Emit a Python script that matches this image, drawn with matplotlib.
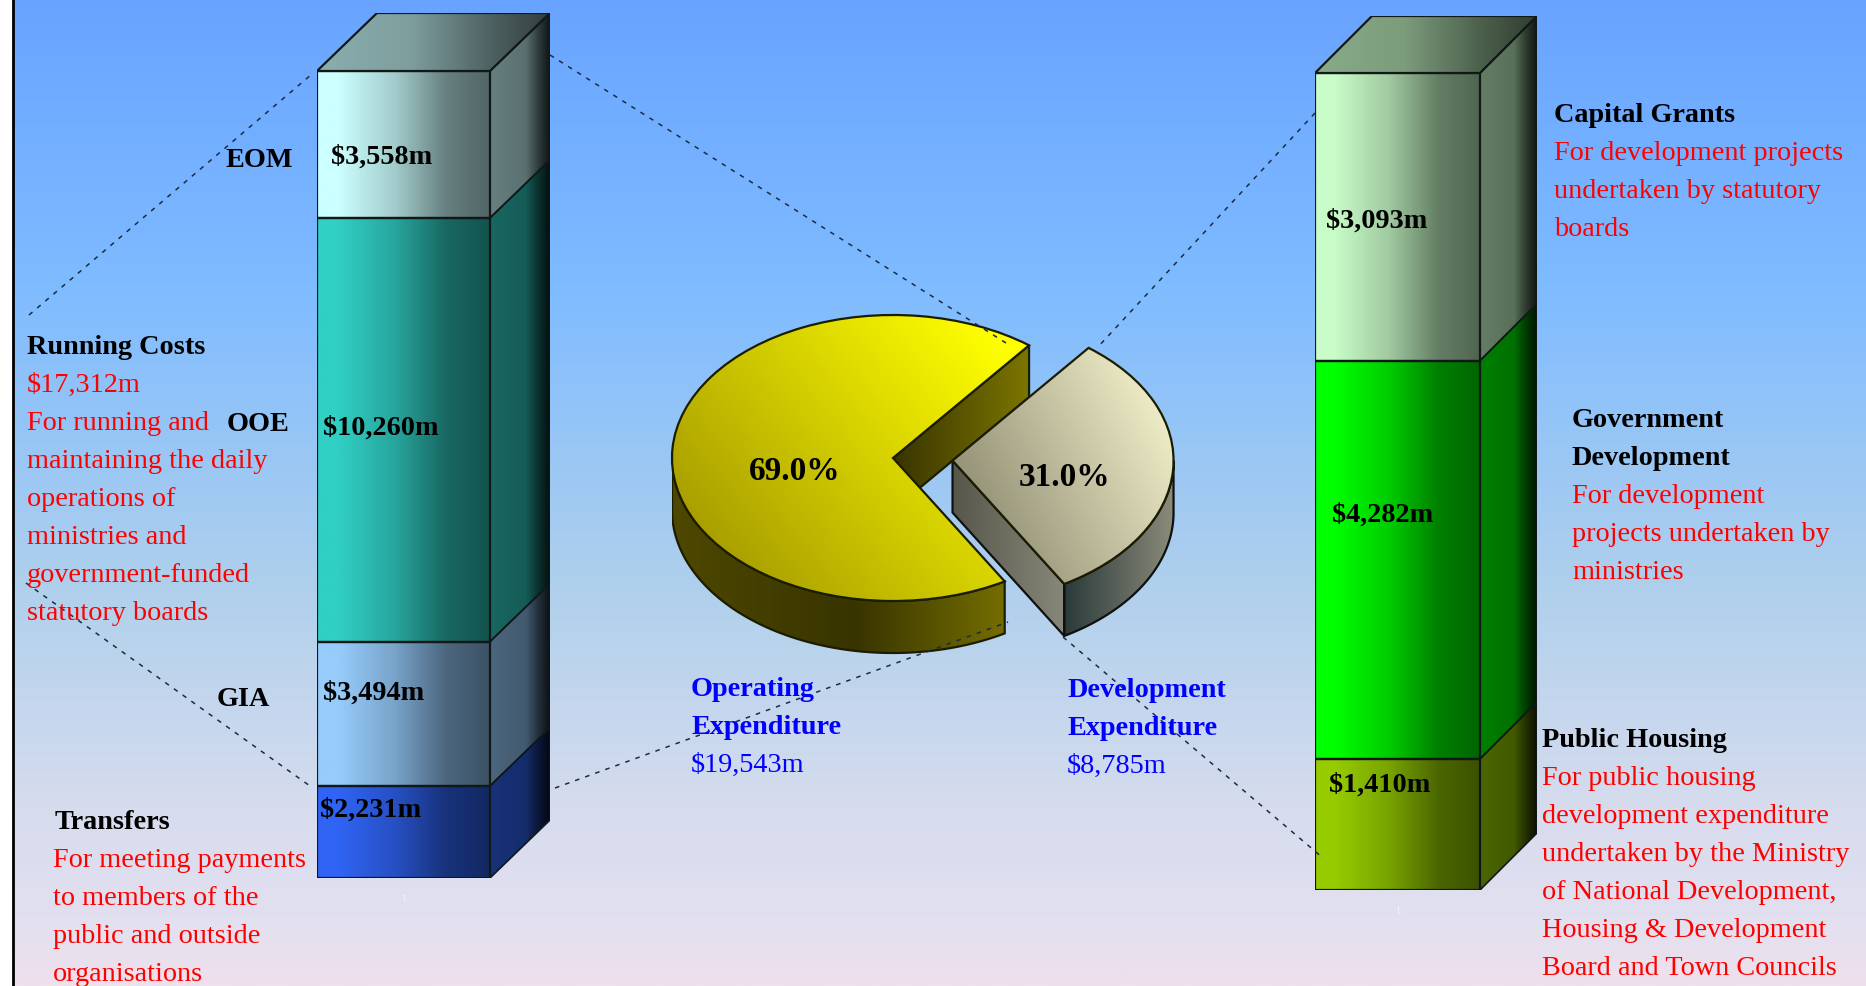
import numpy as np
import matplotlib
matplotlib.use("Agg")
from matplotlib import pyplot as plt
from matplotlib.colors import to_rgb
from matplotlib.patches import Polygon

# --- data ($m)
pie_labels = ["Operating\nExpenditure", "Development\nExpenditure"]
pie_values = [19543, 8785]
running_names = ["Transfers", "GIA", "OOE", "EOM"]
running_values = [2231, 3494, 10260, 3558]
running_colors = ["#3064f4", "#97ccfc", "#31cfc4", "#ccffff"]
devel_names = ["Public Housing", "Government Development", "Capital Grants"]
devel_values = [1410, 4282, 3093]
devel_colors = ["#96cc00", "#00ff00", "#c8fcc8"]

running_title = "Running Costs"
running_total = "$17,312m"
running_text = ["For running and", "maintaining the daily", "operations of", "ministries and",
                "government-funded", "statutory boards"]
transfers_text = ["For meeting payments", "to members of the", "public and outside", "organisations"]
capital_text = ["For development projects", "undertaken by statutory", "boards"]
government_text = ["For development", "projects undertaken by", "ministries"]
housing_text = ["For public housing", "development expenditure", "undertaken by the Ministry",
                "of National Development,", "Housing & Development", "Board and Town Councils"]

W, H = 1866, 986
plt.rcParams["font.family"] = ["Liberation Serif", "DejaVu Serif"]
FS = 20.3
LINE = 38
DASH_COLOR = "#1c2c40"

fig = plt.figure(figsize=(W / 100, H / 100), dpi=100, facecolor="white")


def px_axes(left, top, width, height, zorder):
    ax = fig.add_axes([left / W, 1 - (top + height) / H, width / W, height / H], zorder=zorder)
    ax.axis("off")
    return ax


def shade(color, stops):
    # horizontal gradient of one colour, stops are (position, brightness)
    pos = np.linspace(0, 1, 256)
    k = np.interp(pos, [s[0] for s in stops], [s[1] for s in stops])
    return (np.array(to_rgb(color))[None, :] * k[:, None])[None, :, :]


def fill(ax, points, img, extent, zorder, edge="#101818", lw=1.6):
    poly = Polygon(points, closed=True, fc="none", ec=edge, lw=lw, zorder=zorder + 0.5)
    ax.add_patch(poly)
    im = ax.imshow(img, extent=extent, aspect="auto", zorder=zorder, interpolation="bilinear")
    im.set_clip_path(poly)


def stacked_bar(left, top, width, height, dx, dy, values, colors):
    total = sum(values)
    scale = (height - dy) / total
    ax = px_axes(left, top, width + dx, height, 2)
    depth = dy / scale
    extent_top = total + depth
    front = [(0, 1), (0.12, 1), (0.45, 0.8), (0.75, 0.5), (1, 0.4)]
    side = [(0, 0.5), (0.6, 0.44), (0.8, 0.24), (1, 0.08)]
    base = 0
    for value, color in zip(values, colors):
        y0, y1 = base, base + value
        fill(ax, [(0, y0), (width, y0), (width, y1), (0, y1)], shade(color, front),
             (0, width, 0, extent_top), 2)
        fill(ax, [(width, y0), (width + dx, y0 + depth), (width + dx, y1 + depth), (width, y1)],
             shade(color, side), (width, width + dx, 0, extent_top), 2, lw=1.2)
        base = y1
    fill(ax, [(0, total), (dx, total + depth), (width + dx, total + depth), (width, total)],
         shade(colors[-1], [(0, 0.68), (0.4, 0.62), (0.75, 0.38), (1, 0.24)]),
         (0, width + dx, total, extent_top), 3)
    ax.set_xlim(0, width + dx)
    ax.set_ylim(0, extent_top)
    return ax


# --- background
bg = px_axes(0, 0, W, H, 0)
stops_y = [0, 0.3, 0.6, 0.82, 0.93, 1]
stops_c = np.array([to_rgb(c) for c in ["#68a4ff", "#80bcff", "#b0d0ec", "#d6dcee", "#e2e0f0", "#eee0ec"]])
yy = np.linspace(0, 1, 400)
grad = np.stack([np.interp(yy, stops_y, stops_c[:, i]) for i in range(3)], axis=1)[:, None, :]
bg.imshow(grad, extent=(14, W, H, 0), aspect="auto", interpolation="bilinear")
bg.axvline(13, color="black", lw=2)
bg.set_xlim(0, W)
bg.set_ylim(H, 0)

# --- stacked bars
stacked_bar(317, 13, 173, 865, 60, 58, running_values, running_colors)
stacked_bar(1315, 16, 165, 874, 57, 57, devel_values, devel_colors)

# --- pie
cx, cy, a, b = 893, 458, 221, 143
thick = 52 / b
pie_ax = px_axes(cx - a, cy - b, a * 2.4, b * 2.6, 2)
wedges, _ = pie_ax.pie(pie_values, explode=(0, 0.27), startangle=52, radius=1,
                       wedgeprops=dict(fc="none", ec="#1c1c00", lw=1.6, zorder=5))
yellow, cream = wedges


def rim_points(wedge, t0, t1):
    ang = np.radians(np.linspace(t0, t1, 80))
    x = wedge.center[0] + np.cos(ang)
    y = wedge.center[1] + np.sin(ang)
    return list(zip(x, y)) + list(zip(x[::-1], y[::-1] - thick))


def cut_points(wedge, t):
    c = wedge.center
    e = (c[0] + np.cos(np.radians(t)), c[1] + np.sin(np.radians(t)))
    return [c, e, (e[0], e[1] - thick), (c[0], c[1] - thick)]


def rows(stops, xs):
    arr = np.array([to_rgb(c) for c in stops])
    pos = np.linspace(0, 1, 256)
    return np.stack([np.interp(pos, xs, arr[:, i]) for i in range(3)], axis=1)[None, :, :]


def diagonal(c0, c1, wx, wy, low, span):
    x, y = np.meshgrid(np.linspace(0, 1, 200), np.linspace(1, 0, 200))
    t = np.clip((wx * x + wy * y - low) / span, 0, 1)[:, :, None]
    return np.array(to_rgb(c0)) * (1 - t) + np.array(to_rgb(c1)) * t


# yellow slice: cut face and front rim, then the top
cyl = yellow.center
fill(pie_ax, cut_points(yellow, yellow.theta1), rows(["#383400", "#7c7600"], [0, 1]),
     (cyl[0], cyl[0] + np.cos(np.radians(yellow.theta1)), -1.5, 1), 1, edge="#1c1c00")
fill(pie_ax, rim_points(yellow, 180, yellow.theta2), rows(["#4e4800", "#383400", "#746e00"], [0, 0.55, 1]),
     (-1, cyl[0] + np.cos(np.radians(yellow.theta2)), -1.5, 1), 1, edge="#1c1c00")
im = pie_ax.imshow(diagonal("#a89e00", "#ffff00", 0.65, 0.35, 0.12, 0.68), extent=(-1, 1, -1, 1),
                   aspect="auto", zorder=4, interpolation="bilinear")
im.set_clip_path(yellow)

# cream slice
cc = cream.center
t_low = cream.theta1 - 360 if cream.theta1 > 180 else cream.theta1
fill(pie_ax, cut_points(cream, t_low), rows(["#56564a", "#88887a"], [0, 1]),
     (cc[0], cc[0] + np.cos(np.radians(t_low)), -1.5, 1), 1, edge="#101010")
fill(pie_ax, rim_points(cream, t_low, 0), rows(["#2a3a3a", "#5a625a", "#8c8c7a"], [0, 0.5, 1]),
     (cc[0] + np.cos(np.radians(t_low)), cc[0] + 1, -1.5, 1), 1, edge="#101010")
im = pie_ax.imshow(diagonal("#8e8c72", "#f0edc8", 0.6, 0.4, 0.15, 0.7),
                   extent=(cc[0], cc[0] + 1, cc[1] - 1, cc[1] + 1),
                   aspect="auto", zorder=4, interpolation="bilinear")
im.set_clip_path(cream)
pie_ax.set_aspect("auto")
pie_ax.set_xlim(-1, 1.4)
pie_ax.set_ylim(-1.6, 1)

# --- overlay for text and dashed leaders
top = px_axes(0, 0, W, H, 5)
top.set_xlim(0, W)
top.set_ylim(H, 0)
for (x0, y0), (x1, y1) in [((29, 315), (312, 74)), ((26, 583), (310, 786)), ((555, 788), (1008, 622)),
                           ((550, 55), (1006, 343)), ((1315, 113), (1097, 348)), ((1063, 637), (1323, 858))]:
    top.plot([x0, x1], [y0, y1], color=DASH_COLOR, lw=1.1, dashes=(3, 4))


def label(x, y, s, color="black", weight="normal", size=FS, ha="left"):
    top.text(x, y + 9, s, color=color, fontweight=weight, fontsize=size, ha=ha, va="baseline")


def block(x, y, lines, color="red", weight="normal"):
    for i, line in enumerate(lines):
        label(x, y + i * LINE, line, color, weight)


def money(v):
    return f"${v:,}m"


# left column
label(27, 345, running_title, weight="bold")
label(27, 383, running_total, "red")
block(27, 421, running_text)
label(55, 820, running_names[0], weight="bold")
block(53, 858, transfers_text)
label(217, 697, running_names[1], weight="bold")
label(227, 422, running_names[2], weight="bold")
label(225, 158, running_names[3], weight="bold")
for x, y, v in zip([320, 323, 323, 331], [808, 691, 426, 155], running_values):
    label(x, y, money(v), weight="bold")

# right column
for x, y, v in zip([1329, 1332, 1326], [783, 513, 219], devel_values):
    label(x, y, money(v), weight="bold")
label(1554, 113, devel_names[2], weight="bold")
block(1554, 151, capital_text)
block(1572, 418, devel_names[1].split(), "black", "bold")
block(1572, 494, government_text)
label(1542, 738, devel_names[0], weight="bold")
block(1542, 776, housing_text)

# pie labels
for x, y, name, v in zip([691, 1067], [687, 688], pie_labels, pie_values):
    block(x, y, name.split("\n"), "#0000ff", "bold")
    label(x, y + 2 * LINE, money(v), "#0000ff")
share = [100 * v / sum(pie_values) for v in pie_values]
for x, y, p in zip([795, 1064], [471, 477], share):
    label(x, y, f"{p:.1f}%", weight="bold", size=24, ha="center")

# faint axis marks under the bars
top.text(405, 898, "t", color="#f0eef6", fontsize=10, ha="center", va="center")
top.text(1399, 910, "t", color="#f0eef6", fontsize=10, ha="center", va="center")

fig.savefig("out.png", dpi=100)
